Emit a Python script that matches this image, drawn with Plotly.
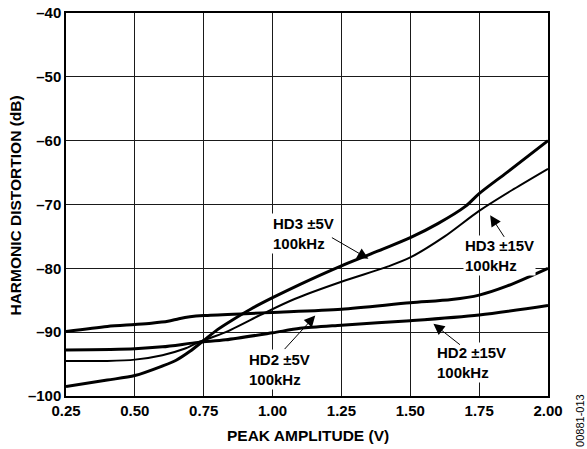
import plotly.graph_objects as go

# ---- data ----
hd3_5v_x = [0.25, 0.4, 0.5, 0.6, 0.65, 0.7, 0.75, 0.8, 0.85, 0.92, 1.0, 1.1, 1.25, 1.4, 1.5, 1.6, 1.7, 1.75, 1.85, 2.0]
hd3_5v_y = [-98.5, -97.5, -96.8, -95.3, -94.4, -93.0, -91.3, -89.6, -88.2, -86.4, -84.6, -82.5, -79.6, -77.0, -75.2, -73.0, -70.3, -68.3, -65.0, -60.0]

hd3_15v_x = [0.25, 0.4, 0.5, 0.6, 0.68, 0.73, 0.83, 0.97, 1.08, 1.25, 1.42, 1.5, 1.625, 1.75, 1.875, 2.0]
hd3_15v_y = [-94.5, -94.5, -94.3, -93.6, -92.6, -91.6, -90.0, -87.0, -84.8, -82.1, -79.7, -78.3, -75.0, -71.0, -67.6, -64.4]

hd2_5v_x = [0.25, 0.4, 0.5, 0.56, 0.62, 0.66, 0.7, 0.75, 0.9, 1.0, 1.25, 1.5, 1.65, 1.75, 1.85, 2.0]
hd2_5v_y = [-89.9, -89.1, -88.8, -88.6, -88.3, -87.9, -87.6, -87.4, -87.1, -86.9, -86.4, -85.4, -84.9, -84.2, -82.8, -80.0]

hd2_15v_x = [0.25, 0.5, 0.6, 0.73, 0.83, 1.0, 1.1, 1.25, 1.5, 1.75, 2.0]
hd2_15v_y = [-92.8, -92.6, -92.3, -91.6, -91.2, -90.1, -89.4, -88.9, -88.2, -87.3, -85.8]

x_ticks = [0.25, 0.50, 0.75, 1.00, 1.25, 1.50, 1.75, 2.00]
x_ticklabels = ["0.25", "0.50", "0.75", "1.00", "1.25", "1.50", "1.75", "2.00"]
y_ticks = [-100, -90, -80, -70, -60, -50, -40]
y_ticklabels = ["–100", "–90", "–80", "–70", "–60", "–50", "–40"]

FONT = "Liberation Sans, Arial, sans-serif"

fig = go.Figure()
series = [
    (hd2_5v_x, hd2_5v_y, 3.0),
    (hd2_15v_x, hd2_15v_y, 3.0),
    (hd3_15v_x, hd3_15v_y, 2.0),
    (hd3_5v_x, hd3_5v_y, 3.0),
]
for xs, ys, w in series:
    fig.add_trace(go.Scatter(x=xs, y=ys, mode="lines",
                             line=dict(color="black", width=w, shape="spline", smoothing=0.8),
                             showlegend=False, hoverinfo="skip"))

labels = [
    # text, x, y (left/middle anchor), arrow head x, y, ax, ay
    ("HD3 ±5V<br>100kHz", 0.994, -74.5, 1.348, -78.5, -38, -22),
    ("HD3 ±15V<br>100kHz", 1.691, -78.0, 1.790, -71.7, 15, 23),
    ("HD2 ±5V<br>100kHz", 0.907, -95.8, 1.155, -87.4, -32, 35),
    ("HD2 ±15V<br>100kHz", 1.590, -94.8, 1.584, -88.7, 28, 22),
]
annotations = []
for text, tx, ty, hx, hy, ax, ay in labels:
    annotations.append(dict(x=tx, y=ty, xref="x", yref="y", text=text, showarrow=False,
                            xanchor="left", yanchor="middle", align="left",
                            bgcolor="white", borderpad=1,
                            font=dict(family=FONT, size=15, color="black", weight="bold")))
    annotations.append(dict(x=hx, y=hy, xref="x", yref="y", text="", showarrow=True,
                            ax=ax, ay=ay, arrowhead=2, arrowsize=2.2, arrowwidth=1,
                            arrowcolor="black"))

annotations += [
    dict(text="HARMONIC DISTORTION (dB)", xref="paper", yref="paper", x=-0.104, y=0.497,
         xanchor="center", yanchor="middle", textangle=-90, showarrow=False,
         font=dict(family=FONT, size=15.5, color="black", weight="bold")),
    dict(text="PEAK AMPLITUDE (V)", xref="paper", yref="paper", x=0.502, y=-0.104,
         xanchor="center", yanchor="middle", showarrow=False,
         font=dict(family=FONT, size=15.5, color="black", weight="bold")),
    dict(text="00881-013", xref="paper", yref="paper", x=1.066, y=-0.063,
         xanchor="center", yanchor="middle", textangle=-90, showarrow=False,
         font=dict(family=FONT, size=11, color="black")),
]

axis_common = dict(showline=True, linecolor="black", linewidth=1.5, mirror=True,
                   showgrid=True, gridcolor="#1a1a1a", gridwidth=1, zeroline=False,
                   automargin=False,
                   ticks="", tickfont=dict(family=FONT, size=15, color="black", weight="bold"))

fig.update_layout(
    width=587, height=449,
    margin=dict(l=66, r=39, t=13, b=53, autoexpand=False),
    paper_bgcolor="white", plot_bgcolor="white",
    xaxis=dict(range=[0.25, 2.0], tickmode="array", tickvals=x_ticks, ticktext=x_ticklabels, **axis_common),
    yaxis=dict(range=[-100, -40], tickmode="array", tickvals=y_ticks, ticktext=y_ticklabels, **axis_common),
    annotations=annotations,
)

fig.write_html("out.html", config={"displayModeBar": False},
               post_script="document.body.style.margin='0px';document.body.style.padding='0px';")
